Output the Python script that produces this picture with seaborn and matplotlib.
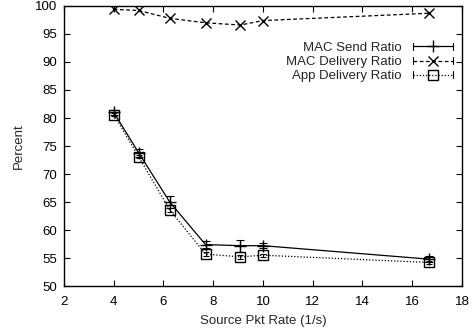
import matplotlib
matplotlib.use("Agg")
import matplotlib.pyplot as plt
import seaborn as sns
import pandas as pd
import numpy as np
from matplotlib.legend_handler import HandlerLine2D
from matplotlib.lines import Line2D

rates = [4.0, 5.0, 6.25, 7.69, 9.09, 10.0, 16.67]
mac_send = [81.0, 73.8, 65.0, 57.4, 57.2, 57.2, 54.8]
mac_send_err = [0.5, 0.7, 1.0, 0.7, 1.1, 0.5, 0.5]
mac_delivery = [99.4, 99.2, 97.8, 97.0, 96.6, 97.4, 98.7]
app_delivery = [80.6, 73.1, 63.6, 55.7, 55.2, 55.5, 54.2]
app_err = [0.3, 0.3, 0.4, 0.3, 0.3, 0.3, 0.3]
series_names = ["MAC Send Ratio", "MAC Delivery Ratio", "App Delivery Ratio"]
x_ticks = [2, 4, 6, 8, 10, 12, 14, 16, 18]
y_ticks = [50, 55, 60, 65, 70, 75, 80, 85, 90, 95, 100]

sns.set_style("ticks", {"xtick.direction": "in", "ytick.direction": "in"})
plt.rcParams["font.family"] = ["Liberation Sans", "DejaVu Sans"]
plt.rcParams["font.size"] = 9.5


class CapHandler(HandlerLine2D):
    def create_artists(self, legend, orig_handle, xdescent, ydescent,
                       width, height, fontsize, trans):
        arts = super().create_artists(legend, orig_handle, xdescent, ydescent,
                                      width, height, fontsize, trans)
        yc = (height - ydescent) / 2.0
        for x0 in (-xdescent, width - xdescent):
            cap = Line2D([x0, x0], [yc - 2.5, yc + 2.5], color="black", lw=0.8)
            cap.set_transform(trans)
            arts.append(cap)
        return arts


df = pd.DataFrame({
    "rate": rates * 3,
    "value": mac_send + mac_delivery + app_delivery,
    "series": [series_names[0]] * 7 + [series_names[1]] * 7 + [series_names[2]] * 7,
})

fig = plt.figure(figsize=(4.73, 3.33), dpi=100)
ax = fig.add_axes([0.1353, 0.1411, 0.8414, 0.8409])

styles = {
    series_names[0]: dict(ls="-", marker="+", ms=8, mfc="black"),
    series_names[1]: dict(ls=(0, (3, 2)), marker="x", ms=7, mfc="black"),
    series_names[2]: dict(ls=(0, (1, 1.5)), marker="s", ms=7, mfc="none"),
}
for name in series_names:
    sub = df[df["series"] == name]
    st = styles[name]
    sns.lineplot(data=sub, x="rate", y="value", ax=ax, color="black", lw=0.9,
                 linestyle=st["ls"], marker=st["marker"], markersize=st["ms"],
                 markerfacecolor=st["mfc"], markeredgecolor="black",
                 markeredgewidth=1.0, label=name, legend=False)

ax.errorbar(rates, mac_send, yerr=mac_send_err, fmt="none", ecolor="black",
            elinewidth=0.8, capsize=3, capthick=0.8)
ax.errorbar(rates, app_delivery, yerr=app_err, fmt="none", ecolor="black",
            elinewidth=0.8, capsize=2, capthick=0.8)

ax.set_xlim(2, 18)
ax.set_ylim(50, 100)
ax.set_xticks(x_ticks)
ax.set_yticks(y_ticks)
ax.tick_params(top=True, right=True, direction="in", length=4, width=0.8,
               labelsize=9.5, colors="black", pad=5)
ax.tick_params(axis="x", pad=7)
for s in ax.spines.values():
    s.set_visible(True)
    s.set_linewidth(1.0)
    s.set_color("black")
ax.set_xlabel("Source Pkt Rate (1/s)", fontsize=9.5, labelpad=5)
ax.set_ylabel("Percent", fontsize=9.5, labelpad=7)

handles, labels = ax.get_legend_handles_labels()
leg = ax.legend(handles, labels, loc="upper right", bbox_to_anchor=(1.0, 0.905),
                frameon=False, markerfirst=False, handlelength=3.0,
                handletextpad=0.9, labelspacing=0.15, borderaxespad=0.3,
                fontsize=9.5, handler_map={h: CapHandler() for h in handles})
for t in leg.get_texts():
    t.set_ha("right")

fig.savefig("out.png", dpi=100)
